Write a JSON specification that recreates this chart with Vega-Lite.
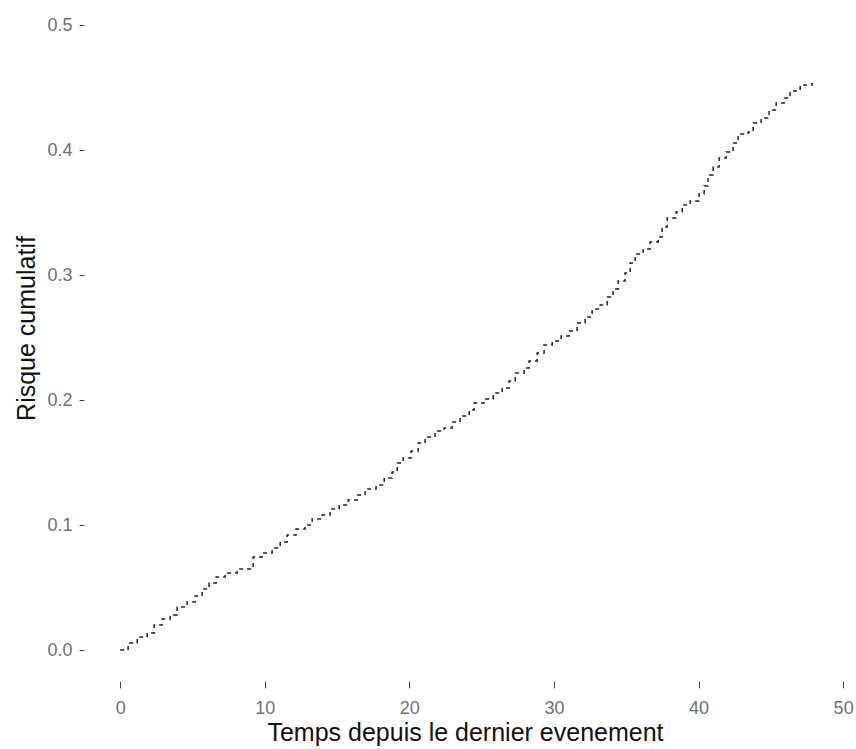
{
  "$schema": "https://vega.github.io/schema/vega-lite/v6.json",
  "autosize": {"type": "none"},
  "width": 772,
  "height": 681,
  "padding": {"left": 84, "top": 0, "right": 0, "bottom": 68},
  "background": "white",
  "config": {"view": {"stroke": null}, "font": "Liberation Sans"},
  "data": {"values": [
    {"t": 0, "r": 0},
    {"t": 0.55, "r": 0.0056},
    {"t": 1.18, "r": 0.0104},
    {"t": 1.87, "r": 0.0136},
    {"t": 2.35, "r": 0.020},
    {"t": 2.90, "r": 0.0248},
    {"t": 3.46, "r": 0.028},
    {"t": 3.94, "r": 0.0344},
    {"t": 4.63, "r": 0.0384},
    {"t": 5.19, "r": 0.0432},
    {"t": 5.67, "r": 0.0488},
    {"t": 6.15, "r": 0.0536},
    {"t": 6.64, "r": 0.0584},
    {"t": 7.26, "r": 0.0616},
    {"t": 8.09, "r": 0.0648},
    {"t": 9.20, "r": 0.0744},
    {"t": 9.82, "r": 0.0776},
    {"t": 10.51, "r": 0.0816},
    {"t": 11.07, "r": 0.0864},
    {"t": 11.55, "r": 0.092},
    {"t": 12.17, "r": 0.0968},
    {"t": 12.79, "r": 0.100},
    {"t": 13.28, "r": 0.1048},
    {"t": 13.97, "r": 0.108},
    {"t": 14.52, "r": 0.1128},
    {"t": 15.15, "r": 0.116},
    {"t": 15.77, "r": 0.120},
    {"t": 16.39, "r": 0.124},
    {"t": 16.94, "r": 0.1288},
    {"t": 17.70, "r": 0.132},
    {"t": 18.26, "r": 0.1376},
    {"t": 18.81, "r": 0.1424},
    {"t": 19.16, "r": 0.1496},
    {"t": 19.57, "r": 0.1536},
    {"t": 20.12, "r": 0.1592},
    {"t": 20.61, "r": 0.1656},
    {"t": 21.09, "r": 0.1704},
    {"t": 21.78, "r": 0.1752},
    {"t": 22.41, "r": 0.1776},
    {"t": 22.96, "r": 0.1824},
    {"t": 23.51, "r": 0.1872},
    {"t": 24.14, "r": 0.192},
    {"t": 24.48, "r": 0.1976},
    {"t": 25.17, "r": 0.2008},
    {"t": 25.80, "r": 0.2056},
    {"t": 26.42, "r": 0.2096},
    {"t": 26.90, "r": 0.2152},
    {"t": 27.32, "r": 0.2216},
    {"t": 27.94, "r": 0.2256},
    {"t": 28.28, "r": 0.2312},
    {"t": 28.84, "r": 0.2376},
    {"t": 29.32, "r": 0.244},
    {"t": 29.88, "r": 0.2472},
    {"t": 30.50, "r": 0.2512},
    {"t": 31.05, "r": 0.2552},
    {"t": 31.60, "r": 0.2616},
    {"t": 32.16, "r": 0.2664},
    {"t": 32.64, "r": 0.2728},
    {"t": 33.20, "r": 0.276},
    {"t": 33.68, "r": 0.2824},
    {"t": 34.09, "r": 0.2888},
    {"t": 34.44, "r": 0.2952},
    {"t": 34.92, "r": 0.3016},
    {"t": 35.27, "r": 0.3096},
    {"t": 35.62, "r": 0.3168},
    {"t": 36.17, "r": 0.3208},
    {"t": 36.65, "r": 0.3264},
    {"t": 37.21, "r": 0.3304},
    {"t": 37.48, "r": 0.3384},
    {"t": 37.83, "r": 0.3456},
    {"t": 38.45, "r": 0.3504},
    {"t": 38.87, "r": 0.356},
    {"t": 39.42, "r": 0.3592},
    {"t": 40.04, "r": 0.3648},
    {"t": 40.39, "r": 0.3712},
    {"t": 40.66, "r": 0.380},
    {"t": 41.01, "r": 0.3864},
    {"t": 41.42, "r": 0.3936},
    {"t": 41.91, "r": 0.3984},
    {"t": 42.39, "r": 0.4056},
    {"t": 42.74, "r": 0.4128},
    {"t": 43.43, "r": 0.4144},
    {"t": 43.78, "r": 0.4216},
    {"t": 44.33, "r": 0.4256},
    {"t": 44.88, "r": 0.432},
    {"t": 45.37, "r": 0.4376},
    {"t": 45.92, "r": 0.4416},
    {"t": 46.33, "r": 0.4472},
    {"t": 47.03, "r": 0.452},
    {"t": 47.86, "r": 0.4536}
  ]},
  "mark": {"type": "line", "interpolate": "step-after", "color": "#222222", "strokeWidth": 1.5, "strokeDash": [4, 4]},
  "encoding": {
    "x": {
      "field": "t", "type": "quantitative",
      "scale": {"domain": [-2.5, 50.89], "nice": false, "zero": false},
      "axis": {
        "title": "Temps depuis le dernier evenement",
        "values": [0, 10, 20, 30, 40, 50],
        "grid": false, "domain": false,
        "tickSize": 7, "tickColor": "#444444", "tickWidth": 1,
        "labelFontSize": 18, "labelColor": "#707070", "labelPadding": 11, "labelFont": "Liberation Sans",
        "titleFontSize": 25, "titleFontWeight": "normal", "titleColor": "#111111", "titleFont": "Liberation Sans",
        "titleX": 381, "titleY": 59, "titleBaseline": "alphabetic", "titleAlign": "center", "titleAnchor": null
      }
    },
    "y": {
      "field": "r", "type": "quantitative",
      "scale": {"domain": [-0.0248, 0.52], "nice": false, "zero": false},
      "axis": {
        "title": "Risque cumulatif",
        "values": [0, 0.1, 0.2, 0.3, 0.4, 0.5],
        "format": ".1f",
        "grid": false, "domain": false,
        "tickSize": 5, "tickColor": "#444444", "tickWidth": 1,
        "labelFontSize": 18, "labelColor": "#707070", "labelPadding": 7, "labelFont": "Liberation Sans",
        "titleFontSize": 25, "titleFontWeight": "normal", "titleColor": "#111111", "titleFont": "Liberation Sans",
        "titleX": -50, "titleY": 328, "titleAngle": -90, "titleBaseline": "alphabetic", "titleAlign": "center"
      }
    }
  }
}
